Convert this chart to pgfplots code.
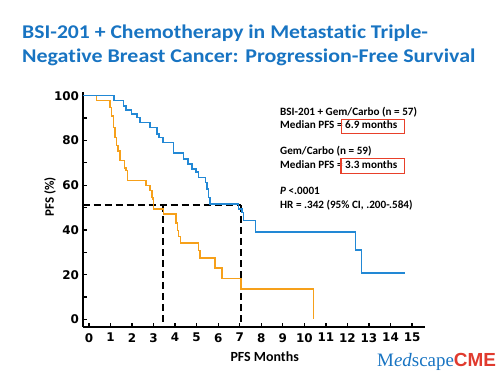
\documentclass[border=0pt]{standalone}
\usepackage{pgfplots}
\pgfplotsset{compat=1.18}
\usepackage{fontspec}
\setmainfont{Carlito}[Ligatures=NoCommon]
\newfontfamily\tickfont{DejaVu Sans}
\newfontfamily\serifl{Liberation Serif}
\newfontfamily\sansl{Liberation Sans}
\definecolor{titleblue}{HTML}{1874C2}
\definecolor{kmblue}{HTML}{2288D5}
\definecolor{kmorange}{HTML}{F6A01A}
\definecolor{boxred}{HTML}{E8402A}
\definecolor{cmered}{HTML}{E03A2E}
\begin{document}
\begin{tikzpicture}
\path[use as bounding box] (0,0) rectangle (500bp,-375bp);
% title
\node[anchor=base west, inner sep=0pt, text=titleblue, font=\fontsize{19.5}{22}\selectfont\bfseries] at (22bp,-38.3bp) {\scalebox{1.115}[1]{BSI-201 + Chemotherapy in Metastatic Triple-}};
\node[anchor=base west, inner sep=0pt, text=titleblue, font=\fontsize{19.5}{22}\selectfont\bfseries] at (22bp,-62.7bp) {\scalebox{1.13}[1]{Negative Breast Cancer: Progression-Free Survival}};
\begin{axis}[
  at={(82.7bp,-327bp)}, anchor=south west, scale only axis,
  width=342.3bp, height=235.3bp,
  xmin=-0.29, xmax=15.6, ymin=-3.4, ymax=101.8,
  axis lines=left, axis line style={line width=2.2bp, -},
  xtick={0,...,15}, ytick={0,20,...,100}, minor ytick={10,30,...,90},
  tick align=inside, major tick length=4bp, minor tick length=4bp,
  tick style={black, line width=1.3bp},
  /pgf/number format/assume math mode=true,
  ticklabel style={font=\tickfont\bfseries\fontsize{12}{14}\selectfont},
  yticklabel style={anchor=east, inner sep=0pt, xshift=-3.5bp},
  xticklabel style={anchor=north, inner sep=0pt, yshift=-6bp},
  clip=false,
]
\addplot[black, line width=2bp, dash pattern=on 7bp off 4bp] coordinates {(-0.29,51) (7.07,51)};
\addplot[black, line width=2bp, dash pattern=on 7bp off 4bp] coordinates {(3.46,51) (3.46,-3.4)};
\addplot[black, line width=2bp, dash pattern=on 7bp off 4bp] coordinates {(7.07,51) (7.07,-3.4)};
\addplot[kmorange, line width=1.5bp, const plot] coordinates {
(-0.29,100) (0.36,97.8) (0.98,94.8) (1.05,91) (1.13,85.8) (1.21,81.4) (1.29,77.7)
(1.36,75.4) (1.44,71) (1.64,67.7) (1.72,66.5) (1.78,62) (2.65,59.8) (2.84,57.6)
(2.92,54.6) (2.97,53.9) (3.0,49.4) (3.46,47.2) (4.05,43) (4.11,39.7) (4.16,37)
(4.26,34.2) (5.08,30.8) (5.15,27.5) (5.86,23) (6.17,18.2) (7.07,13.7) (10.43,0)};
\addplot[kmblue, line width=1.5bp, const plot] coordinates {
(-0.29,100) (1.16,97.8) (1.6,95.5) (1.72,93.6) (1.98,91.8) (2.22,90.3) (2.37,88)
(2.84,85.8) (3.15,83) (3.25,81.4) (3.43,79.2) (3.92,74.4) (4.39,71.7) (4.6,69.5)
(4.78,67.3) (4.98,65.8) (5.09,63.5) (5.4,61.3) (5.47,58.3) (5.55,54.6) (5.63,51.6)
(6.95,49.4) (7.1,47.9) (7.18,44.2) (7.72,39) (12.37,31.1) (12.65,20.7) (14.67,20.7)};
\end{axis}
% axis titles
\node[rotate=90, inner sep=0pt, font=\fontsize{13}{15}\selectfont\bfseries] at (50bp,-197bp) {PFS (\%)};
\node[inner sep=0pt, font=\fontsize{14}{16}\selectfont\bfseries] at (264.7bp,-357bp) {PFS Months};
% annotation text
\begin{scope}[every node/.style={anchor=base west, inner sep=0pt, font=\fontsize{11.2}{13}\selectfont\bfseries}]
\node at (280bp,-115.3bp) {BSI-201 + Gem/Carbo (n = 57)};
\node at (280bp,-128.6bp) {Median PFS = 6.9 months};
\node at (280bp,-154.6bp) {Gem/Carbo (n = 59)};
\node at (280bp,-168bp) {Median PFS = 3.3 months};
\node at (280bp,-194.6bp) {\textit{P} <.0001};
\node at (280bp,-208.6bp) {HR = .342 (95\% CI, .200-.584)};
\end{scope}
\draw[boxred, line width=1.2bp] (341.7bp,-119.3bp) rectangle (404.3bp,-133.3bp);
\draw[boxred, line width=1.2bp] (341bp,-158.3bp) rectangle (404.3bp,-173.3bp);
% logo
\node[anchor=base west, inner sep=0pt] at (377bp,-366.7bp) {{\color{titleblue}\serifl\fontsize{19}{19}\selectfont M\textit{ed}scape}{\color{cmered}\sansl\bfseries\fontsize{19}{19}\selectfont CME}};
\end{tikzpicture}
\end{document}
